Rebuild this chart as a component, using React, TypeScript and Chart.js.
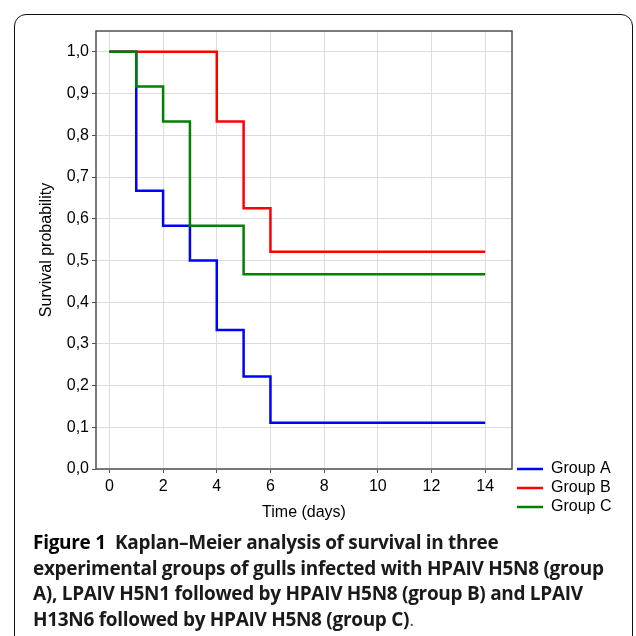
import React, { useEffect, useRef } from "react";
import { Chart, registerables } from "chart.js";

Chart.register(...registerables);

const groupNames = ["Group A", "Group B", "Group C"];
const groupColors = ["#0000ff", "#ff0000", "#008000"];

const timesA = [0, 1, 2, 3, 4, 5, 6, 14];
const survivalA = [1.0, 0.667, 0.583, 0.5, 0.333, 0.222, 0.111, 0.111];
const timesB = [0, 4, 5, 6, 14];
const survivalB = [1.0, 0.833, 0.625, 0.521, 0.521];
const timesC = [0, 1, 2, 3, 5, 14];
const survivalC = [1.0, 0.917, 0.833, 0.583, 0.467, 0.467];

const xTicks = [0, 2, 4, 6, 8, 10, 12, 14];
const yTicks = [0, 0.1, 0.2, 0.3, 0.4, 0.5, 0.6, 0.7, 0.8, 0.9, 1.0];

const xTitle = "Time (days)";
const yTitle = "Survival probability";

const captionLabel = "Figure 1";
const captionLines = [
  "Kaplan\u2013Meier analysis of survival in three",
  "experimental groups of gulls infected with HPAIV H5N8 (group",
  "A), LPAIV H5N1 followed by HPAIV H5N8 (group B) and LPAIV",
  "H13N6 followed by HPAIV H5N8 (group C)",
];

const FONT = '"Liberation Sans", Arial, sans-serif';

const toPts = (xs: number[], ys: number[]) => xs.map((x, i) => ({ x, y: ys[i] }));

const framePlugin = {
  id: "frame",
  afterDraw(chart: any) {
    const { ctx, chartArea } = chart;
    ctx.save();
    ctx.strokeStyle = "#505050";
    ctx.lineWidth = 1.5;
    ctx.strokeRect(chartArea.left, chartArea.top, chartArea.right - chartArea.left, chartArea.bottom - chartArea.top);
    ctx.restore();
  },
};

const legendPlugin = {
  id: "cornerLegend",
  afterDraw(chart: any) {
    const { ctx, chartArea } = chart;
    ctx.save();
    chart.data.datasets.forEach((ds: any, i: number) => {
      const y = chartArea.bottom + i * 19;
      ctx.strokeStyle = ds.borderColor;
      ctx.lineWidth = 2.5;
      ctx.beginPath();
      ctx.moveTo(chartArea.right + 5, y);
      ctx.lineTo(chartArea.right + 31, y);
      ctx.stroke();
      ctx.fillStyle = "#000";
      ctx.font = `16px ${FONT}`;
      ctx.textBaseline = "middle";
      ctx.textAlign = "left";
      ctx.fillText(ds.label, chartArea.right + 39, y);
    });
    ctx.restore();
  },
};

function App() {
  const ref = useRef<HTMLCanvasElement | null>(null);
  useEffect(() => {
    if (!ref.current) return;
    const series = [toPts(timesA, survivalA), toPts(timesB, survivalB), toPts(timesC, survivalC)];
    const chart = new Chart(ref.current, {
      type: "line",
      data: {
        datasets: series.map((d, i) => ({
          label: groupNames[i],
          data: d,
          borderColor: groupColors[i],
          backgroundColor: groupColors[i],
          borderWidth: 2.5,
          pointRadius: 0,
          fill: false,
          stepped: "before" as const,
          order: 3 - i,
        })),
      },
      options: {
        animation: false,
        responsive: false,
        layout: { padding: { left: 0, top: 31, right: 124, bottom: 0 } },
        plugins: { legend: { display: false }, tooltip: { enabled: false } },
        scales: {
          x: {
            type: "linear",
            min: -0.5,
            max: 15,
            afterBuildTicks: (s: any) => {
              s.ticks = xTicks.map((v) => ({ value: v }));
            },
            afterFit: (s: any) => {
              s.height = 61;
            },
            grid: { color: "#dcdcdc", lineWidth: 1, tickColor: "#505050", tickLength: 4 },
            border: { display: false },
            ticks: {
              color: "#000",
              font: { family: FONT, size: 16 },
              padding: 4,
              maxRotation: 0,
              callback: (v: any) => String(v),
            },
            title: {
              display: true,
              text: xTitle,
              color: "#000",
              font: { family: FONT, size: 16 },
              padding: { top: 0, bottom: 7.5 },
            },
          },
          y: {
            type: "linear",
            min: 0,
            max: 1.05,
            afterBuildTicks: (s: any) => {
              s.ticks = yTicks.map((v) => ({ value: v }));
            },
            afterFit: (s: any) => {
              s.width = 96;
            },
            grid: { color: "#dcdcdc", lineWidth: 1, tickColor: "#505050", tickLength: 4 },
            border: { display: false },
            ticks: {
              color: "#000",
              font: { family: FONT, size: 16 },
              padding: 3,
              callback: (v: any) => Number(v).toFixed(1).replace(".", ","),
            },
            title: {
              display: true,
              text: yTitle,
              color: "#000",
              font: { family: FONT, size: 16 },
              padding: { top: 36.8, bottom: 0 },
            },
          },
        },
      },
      plugins: [framePlugin, legendPlugin],
    });
    return () => chart.destroy();
  }, []);

  return (
    <div style={{ position: "fixed", left: 0, top: 0, width: 636, height: 636, overflow: "hidden", background: "#fff" }}>
      <div
        style={{
          position: "absolute",
          left: 14,
          top: 14,
          width: 619,
          height: 700,
          border: "1px solid #111",
          borderRadius: 12,
          boxSizing: "border-box",
        }}
      />
      <canvas ref={ref} width={636} height={530} style={{ position: "absolute", left: 0, top: 0, width: 636, height: 530 }} />
      <div
        style={{
          position: "absolute",
          left: 33,
          top: 530,
          fontFamily: '"Open Sans", sans-serif',
          fontWeight: 700,
          fontSize: 19,
          lineHeight: "25.7px",
          color: "#1a1a1a",
          whiteSpace: "pre",
          letterSpacing: "-0.3px",
        }}
      >
        {captionLines.map((line, i) => (
          <div key={i}>
            {i === 0 ? <span style={{ color: "#000" }}>{captionLabel + "  "}</span> : null}
            {line}
            {i === captionLines.length - 1 ? <span style={{ fontWeight: 400, color: "#555" }}>.</span> : null}
          </div>
        ))}
      </div>
    </div>
  );
}

export default App;
